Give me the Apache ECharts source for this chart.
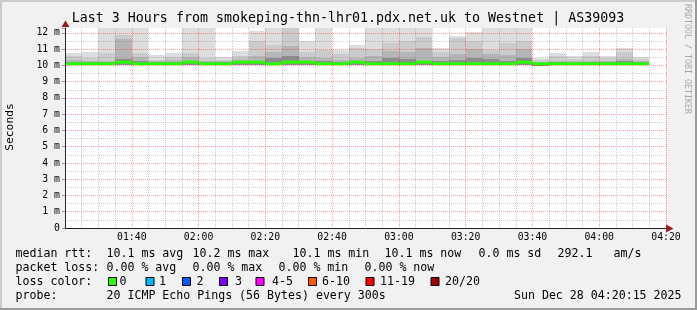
<!DOCTYPE html>
<html><head><meta charset="utf-8">
<script src="https://cdn.jsdelivr.net/npm/echarts@6/dist/echarts.min.js"></script>
<style>html,body{margin:0;padding:0;background:#f1f1f1;}#c{width:697px;height:310px;}</style>
</head><body><div id="c"></div>
<script>
// ---- data (values in milliseconds) ----
const endTimes = ['01:25','01:30','01:35','01:40','01:45','01:50','01:55','02:00','02:05','02:10','02:15','02:20','02:25','02:30','02:35','02:40','02:45','02:50','02:55','03:00','03:05','03:10','03:15','03:20','03:25','03:30','03:35','03:40','03:45','03:50','03:55','04:00','04:05','04:10','04:15'];
const smokeMax   = [10.78,10.85,12.8,12.8,12.8,10.66,10.78,12.8,12.8,10.52,10.87,12.14,12.8,12.8,11.48,12.8,10.96,11.28,12.8,12.8,12.8,12.8,11.07,11.83,12.06,12.8,12.8,12.8,10.48,10.75,10.58,10.85,10.58,11.1,10.5];
const smokeBand2 = [10.55,10.45,10.78,11.9,10.75,10.35,10.5,10.75,10.45,10.35,10.6,11.5,11.27,12.5,10.85,10.95,10.7,11.05,11.0,11.4,11.5,11.75,10.85,11.7,11.5,10.96,11.37,11.5,10.35,10.55,10.4,10.6,10.45,10.8,10.38];
const smokeBand3 = [10.35,10.3,10.3,11.63,10.5,10.25,10.35,10.5,10.3,10.25,10.4,10.6,10.85,11.2,10.5,10.45,10.35,10.45,10.55,10.9,10.85,11.1,10.5,10.7,11.0,10.7,10.65,11.0,10.2,10.3,10.25,10.3,10.25,10.4,10.25];
const smokeBand4 = [10.2,10.18,10.22,10.4,10.25,10.18,10.22,10.3,10.2,10.2,10.25,10.3,10.45,10.6,10.3,10.3,10.2,10.25,10.3,10.45,10.4,10.3,10.3,10.35,10.45,10.4,10.3,10.45,10.15,10.2,10.17,10.2,10.18,10.25,10.18];
const smokeMin   = [10.02,10.02,10.02,10.0,10.02,10.03,10.0,10.02,10.02,10.03,10.03,10.02,10.02,10.0,10.02,10.02,10.02,10.02,10.02,10.02,10.02,10.02,10.02,10.02,10.02,10.02,10.02,10.02,9.97,10.02,10.02,10.02,10.02,10.02,10.02];
const medianRtt  = [10.1,10.1,10.1,10.2,10.1,10.1,10.1,10.2,10.1,10.1,10.2,10.2,10.1,10.2,10.2,10.1,10.1,10.2,10.1,10.1,10.1,10.2,10.1,10.1,10.1,10.1,10.1,10.2,10.1,10.1,10.1,10.1,10.1,10.1,10.1];
const xTickLabels = ['01:40','02:00','02:20','02:40','03:00','03:20','03:40','04:00','04:20'];
const yTickLabels = ['0','1 m','2 m','3 m','4 m','5 m','6 m','7 m','8 m','9 m','10 m','11 m','12 m'];
const lossLabels = ['0','1','2','3','4-5','6-10','11-19','20/20'];
const lossColors = ['#26ff00','#00b8ff','#0059ff','#7e00ff','#ff00ff','#ff5500','#ff0000','#a10000'];
const rttStats  = ['10.1 ms avg','10.2 ms max','10.1 ms min','10.1 ms now','0.0 ms sd','292.1','am/s'];
const lossStats = ['0.00 % avg','0.00 % max','0.00 % min','0.00 % now'];

// ---- build ----
const toMin = s => { const p = s.split(':'); return (+p[0])*60 + (+p[1]); };
const stepMin = 5;
const rows = endTimes.map((t,i) => {
  const e = toMin(t);
  return [e - stepMin, e, smokeMin[i], smokeMax[i], smokeBand2[i], smokeBand3[i], smokeBand4[i], medianRtt[i]];
});
const bandColors = ['#dddddd','#cbcbcb','#b5b5b5','#8c8c8c'];
const MONO = '"DejaVu Sans Mono", monospace';

const chart = echarts.init(document.getElementById('c'), null, {renderer:'canvas'});

function renderItem(params, api) {
  const cs = params.coordSys;
  const x0 = Math.round(api.coord([api.value(0), 0])[0]);
  const x1 = Math.round(api.coord([api.value(1), 0])[0]);
  const yy = v => Math.round(Math.max(cs.y, api.coord([api.value(0), v])[1]));
  const yb = yy(api.value(2));
  const children = [];
  [3,4,5,6].forEach((idx, k) => {
    const yt = yy(api.value(idx));
    children.push({type:'rect', shape:{x:x0, y:yt, width:x1-x0, height:yb-yt}, style:{fill:bandColors[k]}});
  });
  const ym = api.coord([api.value(0), api.value(7)])[1];
  children.push({type:'rect', shape:{x:x0, y:ym-1.5, width:x1-x0, height:3}, style:{fill:'#26ff00'}});
  return {type:'group', children};
}

const graphics = [];
// frame
graphics.push({type:'rect', shape:{x:0,y:0,width:697,height:2}, style:{fill:'#cbcbcb'}, z:100});
graphics.push({type:'rect', shape:{x:0,y:0,width:2,height:310}, style:{fill:'#cbcbcb'}, z:100});
graphics.push({type:'rect', shape:{x:0,y:308,width:697,height:2}, style:{fill:'#9a9a9a'}, z:100});
graphics.push({type:'rect', shape:{x:695,y:0,width:2,height:310}, style:{fill:'#9a9a9a'}, z:100});
// arrows
graphics.push({type:'polygon', shape:{points:[[666,224.5],[673.5,228.5],[666,232.5]]}, style:{fill:'#9b1c1c'}, z:100});
graphics.push({type:'polygon', shape:{points:[[61.5,27],[65.5,20.5],[69.5,27]]}, style:{fill:'#9b1c1c'}, z:100});
// title
graphics.push({type:'text', x:348, y:19, style:{text:'Last 3 Hours from smokeping-thn-lhr01.pdx.net.uk to Westnet | AS39093', font:'13.3px '+MONO, fill:'#000', align:'center', verticalAlign:'middle'}});
// side texts
graphics.push({type:'text', x:10, y:127, rotation:Math.PI/2, style:{text:'Seconds', font:'11.3px '+MONO, fill:'#000', align:'center', verticalAlign:'middle'}});
graphics.push({type:'text', x:687, y:59, rotation:-Math.PI/2, style:{text:'RRDTOOL / TOBI OETIKER', font:'8.3px '+MONO, fill:'#a8a8a8', align:'center', verticalAlign:'middle'}});
// legend rows
const LF = '11.6px ' + MONO;
function txt(x, y, s, align) { graphics.push({type:'text', x, y, style:{text:s, font:LF, fill:'#000', align:align||'left', verticalAlign:'middle'}}); }
const r1 = 253.5, r2 = 267.5, r3 = 281.5, r4 = 295.5;
txt(15.5, r1, 'median rtt:');
[106.5, 192.5, 292.5, 384.5, 478.5, 557.5, 613.5].forEach((x,i) => txt(x, r1, rttStats[i]));
txt(15.5, r2, 'packet loss:');
[106.5, 192.5, 278.5, 364.5].forEach((x,i) => txt(x, r2, lossStats[i]));
txt(15.5, r3, 'loss color:');
const boxX = [108, 145.5, 182, 219, 255.5, 308, 365.5, 430.5];
const labX = [119.5, 159, 196.5, 235, 272, 322, 380, 445];
lossLabels.forEach((l,i) => {
  graphics.push({type:'rect', shape:{x:boxX[i]+0.5, y:277.5, width:8, height:8}, style:{fill:lossColors[i], stroke:'#000', lineWidth:1}});
  txt(labX[i], r3, l);
});
txt(15.5, r4, 'probe:');
txt(106.5, r4, '20 ICMP Echo Pings (56 Bytes) every 300s');
txt(681.5, r4, 'Sun Dec 28 04:20:15 2025', 'right');

const majorGridX = {show:true, lineStyle:{color:'rgba(255,0,0,0.38)', width:1, type:[1,1]}};
const majorGridY = {show:true, showMaxLine:false, lineStyle:{color:'rgba(255,0,0,0.38)', width:1, type:[1,1]}};
const minorGrid = {show:true, lineStyle:{color:'rgba(120,120,120,0.38)', width:1, type:[1,1]}};

chart.setOption({
  backgroundColor:'#f1f1f1',
  animation:false,
  grid:{left:65, right:31, top:28, bottom:82, show:true, backgroundColor:'#ffffff', borderWidth:0, z:0},
  xAxis:{
    type:'value', min:80, max:260, interval:20, z:3,
    axisLine:{show:true, onZero:false, lineStyle:{color:'#222', width:1}},
    axisTick:{show:false},
    minorTick:{show:false, splitNumber:4},
    splitLine:majorGridX,
    minorSplitLine:minorGrid,
    axisLabel:{margin:4, fontFamily:'DejaVu Sans Mono', fontSize:9.8, color:'#000',
      formatter: v => { const i = Math.round((v - 100)/20); return (i >= 0 && i < xTickLabels.length && Math.abs(v-100-20*i) < 1e-6) ? xTickLabels[i] : ''; }}
  },
  yAxis:{
    type:'value', min:0, max:12.3, interval:1, z:3,
    axisLine:{show:true, onZero:false, lineStyle:{color:'#222', width:1}},
    axisTick:{show:true, length:3, lineStyle:{color:'#999'}},
    minorTick:{show:false, splitNumber:2},
    splitLine:majorGridY,
    minorSplitLine:minorGrid,
    axisLabel:{margin:5, fontFamily:'DejaVu Sans Mono', fontSize:9.8, color:'#000',
      formatter: v => { const i = Math.round(v); return (Math.abs(v - i) < 1e-6 && yTickLabels[i] !== undefined) ? yTickLabels[i] : ''; }}
  },
  series:[{
    type:'custom', z:1, renderItem, data:rows, clip:true,
    encode:{x:[0,1], y:[2,3,4,5,6,7]}
  }],
  graphic:graphics
});
</script></body></html>
